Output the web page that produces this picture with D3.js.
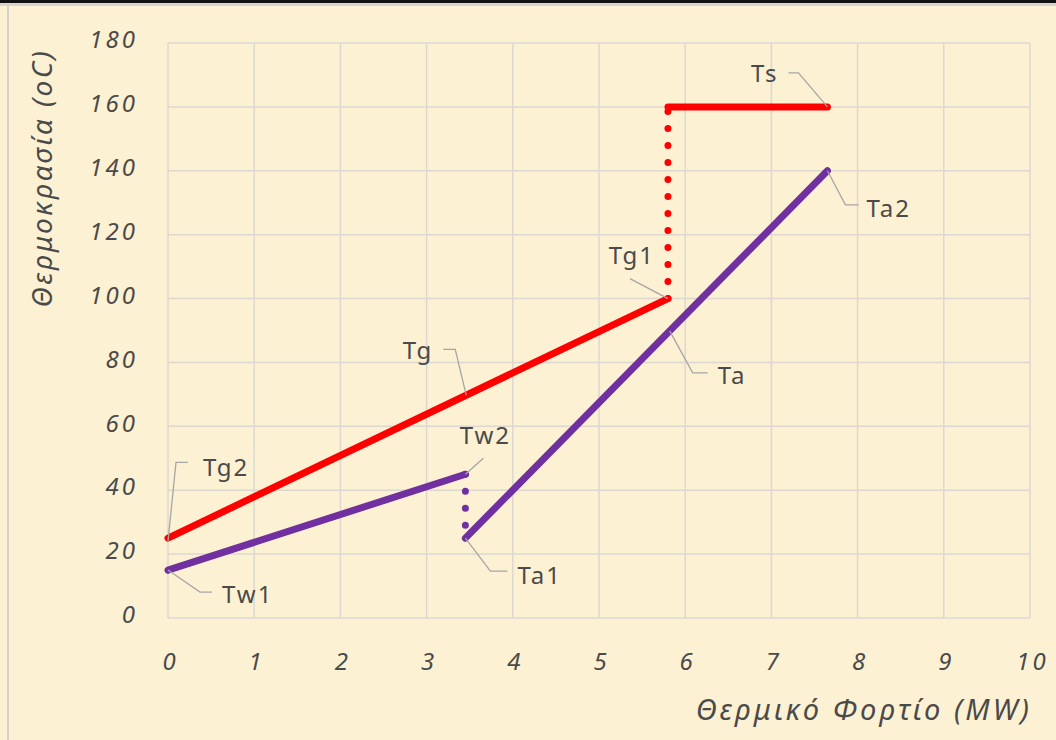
<!DOCTYPE html>
<html>
<head>
<meta charset="utf-8">
<script src="https://cdn.jsdelivr.net/npm/d3@7"></script>
<style>
  html, body { margin: 0; padding: 0; background: #fdf1d3; }
  svg { display: block; }
  text { font-family: "Noto Sans", "DejaVu Sans", sans-serif; fill: #4a4a4a; }
</style>
</head>
<body>
<svg id="chart" width="1056" height="740"></svg>
<script>
// ---- data ----
const xTicks = [0, 1, 2, 3, 4, 5, 6, 7, 8, 9, 10];
const yTicks = [0, 20, 40, 60, 80, 100, 120, 140, 160, 180];
const xTitle = "Θερμικό Φορτίο (MW)";
const yTitle = "Θερμοκρασία (oC)";

const tgLine   = [[0, 25], [5.8, 100]];      // flue gas
const tgDotted = [[5.8, 100], [5.8, 160]];
const tsLine   = [[5.8, 160], [7.65, 160]];  // steam
const twLine   = [[0, 15], [3.45, 45]];      // water
const twDotted = [[3.45, 45], [3.45, 25]];
const taLine   = [[3.45, 25], [7.65, 140]];  // air

const labelNames  = ["Ts", "Ta2", "Tg1", "Ta", "Tg", "Tw2", "Ta1", "Tg2", "Tw1"];
const labelAnchor = [[7.65, 160], [7.65, 140], [5.8, 100], [5.82, 89.9], [3.46, 69.7], [3.45, 45], [3.45, 25], [0, 24], [0, 15]];

// ---- layout ----
const svg = d3.select("#chart");
const W = 1056, H = 740;
const x = d3.scaleLinear().domain([0, 10]).range([168, 1030]);
const y = d3.scaleLinear().domain([0, 180]).range([618, 43]);

// frame decorations
svg.append("rect").attr("x", 0).attr("y", 0).attr("width", W).attr("height", H).attr("fill", "#fdf1d3");
svg.append("rect").attr("x", 0).attr("y", 0).attr("width", W).attr("height", 3).attr("fill", "#111");
svg.append("rect").attr("x", 0).attr("y", 3).attr("width", W).attr("height", 3).attr("fill", "#d8d4cc");
svg.append("rect").attr("x", 7).attr("y", 6).attr("width", 2).attr("height", H).attr("fill", "#d6d3cf");

// grid
const gridColor = "#dcd8d0";
svg.append("g").selectAll("line").data(xTicks).join("line")
  .attr("x1", d => x(d)).attr("x2", d => x(d))
  .attr("y1", y(0)).attr("y2", y(180))
  .attr("stroke", gridColor).attr("stroke-width", 1.5);
svg.append("g").selectAll("line").data(yTicks).join("line")
  .attr("x1", x(0)).attr("x2", x(10))
  .attr("y1", d => y(d)).attr("y2", d => y(d))
  .attr("stroke", gridColor).attr("stroke-width", 1.5);

const tickFont = { size: 24, spacing: "3px" };

// axes (labels only)
const xAxis = d3.axisBottom(x).tickValues(xTicks).tickSize(0).tickPadding(0).tickFormat(d3.format("d"));
const gx = svg.append("g").attr("transform", `translate(2, 653)`).call(xAxis);
gx.select(".domain").remove();
gx.selectAll("text").attr("font-size", tickFont.size).attr("fill", "#505050").attr("dy", "0.72em")
  .style("font-family", '"Noto Sans", sans-serif').style("font-style", "italic")
  .style("letter-spacing", tickFont.spacing);

const yAxis = d3.axisLeft(y).tickValues(yTicks).tickSize(0).tickPadding(0).tickFormat(d3.format("d"));
const gy = svg.append("g").attr("transform", `translate(138, -3)`).call(yAxis);
gy.select(".domain").remove();
gy.selectAll("text").attr("font-size", tickFont.size).attr("fill", "#505050")
  .style("font-family", '"Noto Sans", sans-serif').style("font-style", "italic")
  .style("letter-spacing", tickFont.spacing);

// titles
svg.append("text").attr("x", 1032).attr("y", 720).attr("text-anchor", "end")
  .attr("font-size", 29).style("font-style", "italic").style("letter-spacing", "3px")
  .attr("fill", "#505050").text(xTitle);
svg.append("text").attr("transform", "translate(52,178) rotate(-90)").attr("text-anchor", "middle")
  .attr("font-size", 28).style("font-style", "italic").style("letter-spacing", "2.5px")
  .attr("fill", "#505050").text(yTitle);

// lines
const line = d3.line().x(d => x(d[0])).y(d => y(d[1]));
const red = "#ff0000", purple = "#7030a0";
function solid(data, color) {
  svg.append("path").attr("d", line(data)).attr("fill", "none")
    .attr("stroke", color).attr("stroke-width", 7).attr("stroke-linecap", "round");
}
function dotted(data, color) {
  svg.append("path").attr("d", line(data)).attr("fill", "none")
    .attr("stroke", color).attr("stroke-width", 7).attr("stroke-linecap", "round")
    .attr("stroke-dasharray", "0 17");
}
dotted(tgDotted, red);
dotted(twDotted, purple);
solid(tgLine, red);
solid(tsLine, red);
solid(twLine, purple);
solid(taLine, purple);

// labels with leader lines: pixel offsets (elbow, end) and text placement
const leaderOffsets = [
  [[-29, -34], [-39, -34]],
  [[18, 34], [31, 34]],
  [[-38, -20], [-38, -20]],
  [[23, 42], [38, 42]],
  [[-11, -46], [-23, -46]],
  [[18, -16], [18, -16]],
  [[25, 33], [42, 33]],
  [[8, -79], [20, -79]],
  [[32, 22], [44, 22]]
];
const textOffsets = [
  [[-49, -33], "end"],
  [[39, 38], "start"],
  [[-13, -43], "end"],
  [[48, 45], "start"],
  [[-33, -45], "end"],
  [[20, -39], "middle"],
  [[52, 37], "start"],
  [[35, -74], "start"],
  [[54, 25], "start"]
];
const labels = labelNames.map((n, i) => ({ name: n, ax: x(labelAnchor[i][0]), ay: y(labelAnchor[i][1]), lo: leaderOffsets[i], to: textOffsets[i] }));
const lg = svg.append("g");
labels.forEach(l => {
  const pts = [[l.ax, l.ay], [l.ax + l.lo[0][0], l.ay + l.lo[0][1]], [l.ax + l.lo[1][0], l.ay + l.lo[1][1]]];
  lg.append("path").attr("d", d3.line()(pts)).attr("fill", "none")
    .attr("stroke", "#a6a6a6").attr("stroke-width", 1.3);
  lg.append("text").attr("x", l.ax + l.to[0][0]).attr("y", l.ay + l.to[0][1])
    .attr("dy", "0.35em").attr("text-anchor", l.to[1])
    .attr("font-size", 24).style("letter-spacing", "2px").attr("fill", "#333").text(l.name);
});
</script>
</body>
</html>
